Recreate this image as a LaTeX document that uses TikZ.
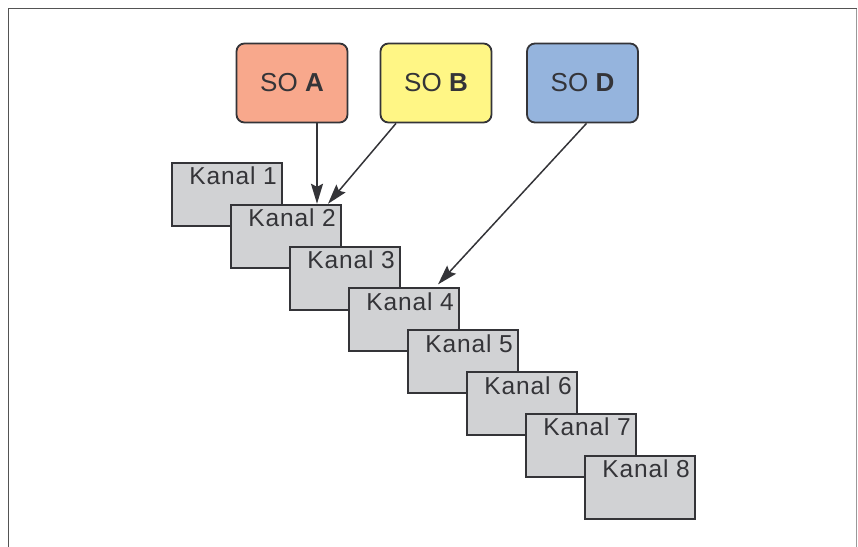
\documentclass[tikz,border=0pt]{standalone}
\usepackage{fontspec}
\setmainfont{Liberation Sans}
\usetikzlibrary{arrows.meta}
\definecolor{soAfill}{RGB}{248,168,140}
\definecolor{soBfill}{RGB}{255,246,133}
\definecolor{soDfill}{RGB}{149,180,221}
\definecolor{kanalfill}{RGB}{209,210,212}
\definecolor{inkgray}{RGB}{52,52,56}
\tikzset{
    kanalbox/.style={draw=inkgray,line width=2bp,fill=kanalfill,rectangle,
        minimum width=110bp,minimum height=63bp,inner sep=0pt},
    kanaltext/.style={anchor=base east,inner sep=0pt,text=inkgray,
        font=\fontsize{24.5bp}{28bp}\selectfont\addfontfeature{LetterSpace=3.5}},
    sobox/.style={draw=inkgray,line width=1.8bp,rounded corners=8bp,
        minimum width=111bp,minimum height=79bp,inner sep=0pt,text=inkgray,
        font=\fontsize{26bp}{30bp}\selectfont},
    conn/.style={draw=inkgray,line width=1.5bp,-{Stealth[length=20bp,width=12bp,inset=3bp]}}
}
\begin{document}
\begin{tikzpicture}[x=1bp,y=-1bp]
    \useasboundingbox (0,0) rectangle (858,547);
    %% frame
    \draw[line width=1.5bp,white!33!black] (8.5,560) -- (8.5,8.7) -- (856.5,8.7);
    \draw[line width=1bp,white!60!black] (856.5,8.7) -- (856.5,560);
    %% channels
    \foreach \i in {1,...,8} {
        \node[kanalbox] (k\i) at ({227+59*(\i-1)},{194.5+41.8*(\i-1)}) {};
        \node[kanaltext] (t\i) at ([xshift=-6bp,yshift=-23bp]k\i.north east) {Kanal \i};
    }
    %% sources
    \node[sobox,fill=soAfill] (soa) at (292,83) {SO \textbf{A}};
    \node[sobox,fill=soBfill] (sob) at (436,83) {SO \textbf{B}};
    \node[sobox,fill=soDfill] (sod) at (582.5,83) {SO \textbf{D}};
    %% arrows
    \draw[conn] ([xshift=25bp]soa.south) -- ([xshift=25bp]soa.south |- k2.north);
    \draw[conn] ([xshift=-40bp]sob.south) -- ([xshift=-14bp]k2.north east);
    \draw[conn] ([xshift=4bp]sod.south) -- ([xshift=-22bp,yshift=3bp]k4.north east);
\end{tikzpicture}
\end{document}
